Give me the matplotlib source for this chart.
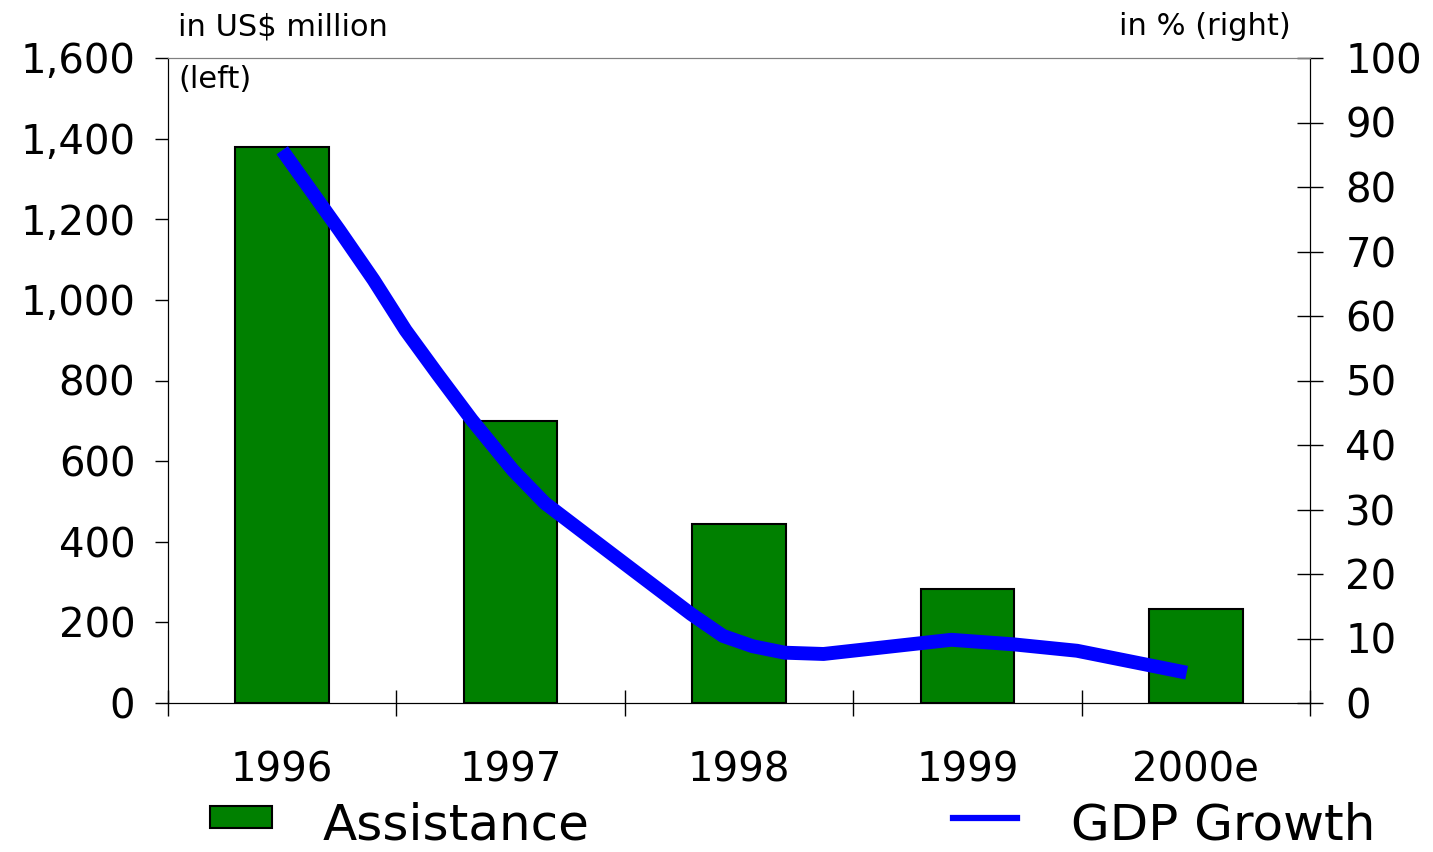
import numpy as np
import matplotlib
matplotlib.use("Agg")
import matplotlib.pyplot as plt
from matplotlib.patches import Rectangle
from matplotlib.lines import Line2D

years = ["1996", "1997", "1998", "1999", "2000e"]
assistance = [1380, 700, 445, 283, 233]

# GDP growth curve, x in year units (0 = 1996)
gdp_x = [0.00, 0.25, 0.40, 0.54, 0.68, 0.83, 1.01, 1.15, 1.38, 1.54, 1.79,
         1.93, 2.06, 2.20, 2.37, 2.93, 3.20, 3.48, 3.96]
gdp_y = [85.7, 73.3, 65.6, 57.8, 51.0, 43.9, 36.1, 31.0, 24.8, 20.5, 13.8,
         10.4, 8.8, 7.8, 7.6, 9.8, 9.1, 8.1, 4.7]

left_ticks = np.arange(0, 1601, 200)
right_ticks = np.arange(0, 101, 10)

plt.rcParams["font.family"] = ["DejaVu Sans"]

W, H = 1433, 852
fig = plt.figure(figsize=(W / 100, H / 100), dpi=100)
ax = fig.add_axes([168 / W, 1 - 703 / H, (1310 - 168) / W, (703 - 58) / H])
ax2 = ax.twinx()

x = np.arange(len(years))
ax.bar(x, assistance, width=0.41, color="#008000", edgecolor="black", linewidth=1.5,
       zorder=2)
ax2.plot(gdp_x, gdp_y, color="#0000ff", linewidth=10, solid_capstyle="butt", zorder=3)

ax.set_xlim(-0.5, 4.5)
ax.set_ylim(0, 1600)
ax2.set_ylim(0, 100)

ax.set_yticks(left_ticks)
ax.set_yticklabels([f"{v:,}" for v in left_ticks])
ax2.set_yticks(right_ticks)

ax.set_xticks(np.arange(-0.5, 4.6, 1.0))
ax.set_xticklabels([])
ax.set_xticks(x, minor=True)
ax.set_xticklabels(years, minor=True)

ax.tick_params(axis="y", which="major", direction="out", length=9.5, width=1,
               labelsize=29, pad=14)
ax.tick_params(axis="x", which="major", direction="inout", length=19, width=1)
ax.tick_params(axis="x", which="minor", length=0, labelsize=29, pad=34)
ax2.tick_params(axis="y", direction="inout", length=19, width=1, labelsize=29, pad=16)

for a in (ax, ax2):
    a.spines["top"].set_color("#808080")
    a.spines["left"].set_color("black")
    a.spines["right"].set_color("black")
    a.spines["bottom"].set_color("black")

fig.text(178 / W, 1 - 35 / H, "in US$ million", fontsize=22, ha="left", va="baseline")
fig.text(178 / W, 1 - 88 / H, "(left)", fontsize=22, ha="left", va="baseline")
fig.text(1291 / W, 1 - 35 / H, "in % (right)", fontsize=22, ha="right", va="baseline")

# legend drawn in figure pixels
fig.add_artist(Rectangle((210 / W, 1 - 828 / H), 62 / W, 22 / H, transform=fig.transFigure,
                         facecolor="#008000", edgecolor="black", linewidth=1.5))
fig.text(323 / W, 1 - 839 / H, "Assistance", fontsize=36, ha="left", va="baseline")
fig.add_artist(Line2D([953 / W, 1017 / W], [1 - 818 / H, 1 - 818 / H],
                      transform=fig.transFigure, color="#0000ff", linewidth=4.5))
fig.text(1071 / W, 1 - 839 / H, "GDP Growth", fontsize=36, ha="left", va="baseline")

fig.savefig("out.png", dpi=100)
